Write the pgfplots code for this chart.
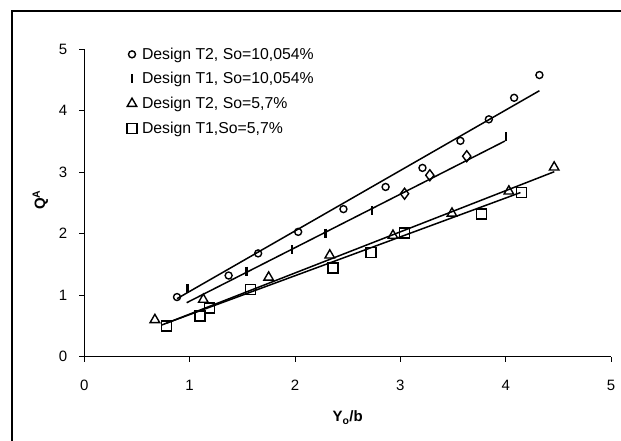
\documentclass[border=0pt]{standalone}
\usepackage{fontspec}
\setmainfont{Liberation Sans}
\usepackage{pgfplots}
\pgfplotsset{compat=1.18}
\begin{document}
\begin{tikzpicture}
\useasboundingbox (0pt,0pt) rectangle (621pt,-441pt);
\draw[line width=1.3pt] (12pt,-441pt) -- (12pt,-11pt) -- (621pt,-11pt);
\begin{axis}[
  at={(84.3pt,-356.7pt)}, anchor=south west,
  scale only axis, width=526.75pt, height=307.5pt,
  xmin=0, xmax=5, ymin=0, ymax=5,
  axis lines=left, axis line style={-, line width=1.1pt},
  tick align=outside, major tick length=5pt,
  tick style={line width=1pt, black},
  xtick={0,1,2,3,4,5}, ytick={0,1,2,3,4,5},
  /pgf/number format/assume math mode=true,
  ticklabel style={font=\fontsize{15}{17}\selectfont, inner sep=0pt},
  xticklabel style={anchor=center, yshift=-24pt},
  yticklabel style={anchor=east, xshift=-12pt},
  xlabel={\textbf{Y\textsubscript{o}/b}},
  ylabel={\textbf{Q\textsuperscript{A}}},
  label style={font=\fontsize{15}{17}\selectfont},
  xlabel style={at={(axis description cs:0.5,-0.198)}, anchor=center},
  ylabel style={at={(axis description cs:-0.0835,0.51)}, anchor=center},
  legend style={draw=none, fill=none, at={(axis description cs:0.075,1.018)}, anchor=north west,
    font=\fontsize{15.8}{18}\selectfont, row sep=7.7pt,
    /tikz/every odd column/.append style={column sep=3pt}},
  legend cell align=left,
]
% Design T2, So=10,054%
\addplot[only marks, mark=o, mark size=3.5pt, mark options={line width=1.4pt}] coordinates {
 (0.88,0.97) (1.37,1.32) (1.65,1.68) (2.03,2.03) (2.46,2.40) (2.86,2.76)
 (3.21,3.07) (3.57,3.51) (3.84,3.86) (4.08,4.21) (4.32,4.58)};
\addlegendentry{Design T2, So=10,054\%}
% Design T1, So=10,054%
\addplot[only marks, mark=|, mark size=4.5pt, mark options={line width=2.2pt}] coordinates {
 (0.98,1.11) (1.54,1.39) (1.97,1.74) (2.29,2.01) (2.73,2.37) (4.00,3.58)};
\addlegendentry{Design T1, So=10,054\%}
% Design T2, So=5,7%
\addplot[only marks, mark=triangle, mark size=5.5pt, mark options={line width=1.4pt}] coordinates {
 (0.67,0.60) (1.13,0.93) (1.75,1.29) (2.33,1.65) (2.93,1.97) (3.49,2.33) (4.03,2.69) (4.46,3.08)};
\addlegendentry{Design T2, So=5,7\%}
% Design T1, So=5,7%
\addplot[only marks, mark=square, mark size=5pt, mark options={line width=1.4pt}] coordinates {
 (0.78,0.50) (1.10,0.66) (1.19,0.79) (1.58,1.09) (2.36,1.44) (2.72,1.69) (3.04,2.01) (3.77,2.32) (4.15,2.67)};
\addlegendentry{Design T1,So=5,7\%}
% extra points
\addplot[forget plot, only marks, mark=diamond, mark size=5.5pt, mark options={line width=1.4pt}] coordinates {
 (3.04,2.65) (3.28,2.95) (3.63,3.26)};
% fit lines
\addplot[forget plot, black, line width=1.5pt] coordinates {(0.88,0.944) (4.32,4.325)};
\addplot[forget plot, black, line width=1.5pt] coordinates {(0.972,0.878) (3.993,3.507)};
\addplot[forget plot, black, line width=1.5pt] coordinates {(0.735,0.515) (4.461,3.008)};
\addplot[forget plot, black, line width=1.5pt] coordinates {(0.776,0.543) (4.14,2.669)};
\end{axis}
\end{tikzpicture}
\end{document}
